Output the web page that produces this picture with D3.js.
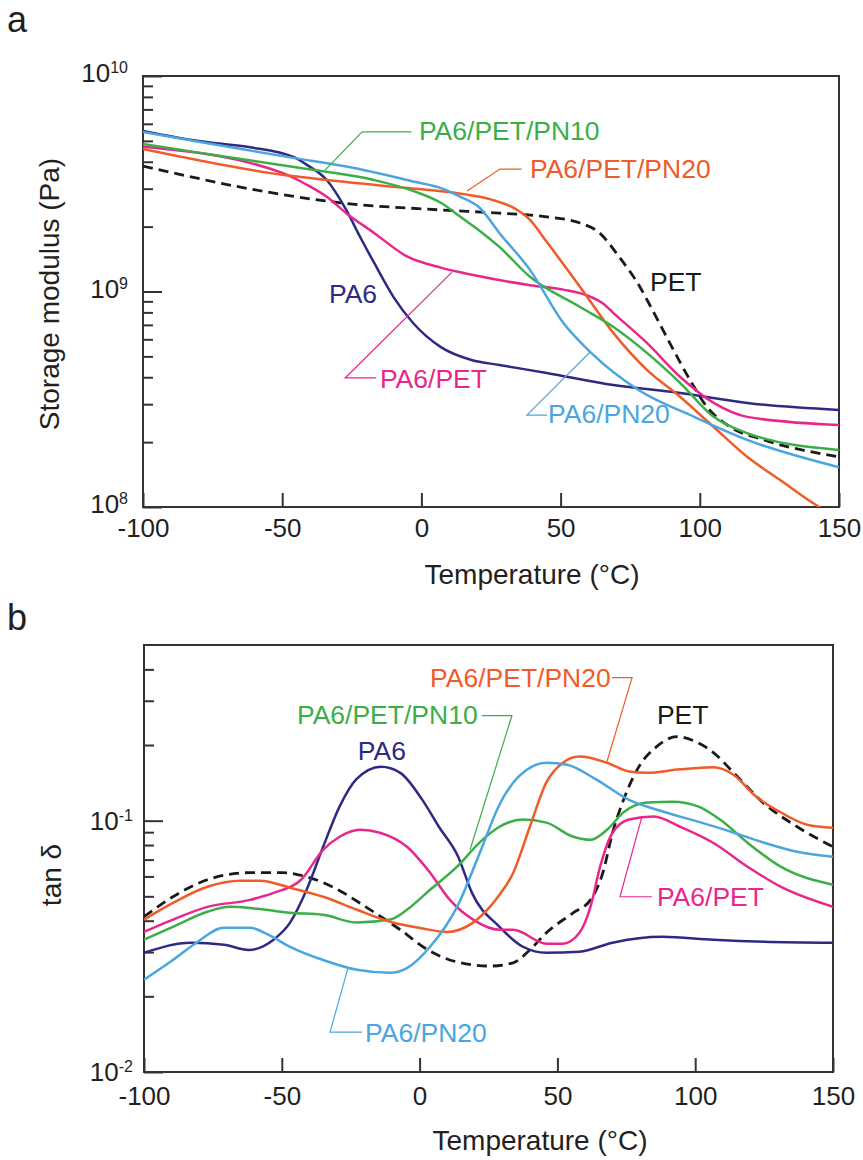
<!DOCTYPE html>
<html>
<head>
<meta charset="utf-8">
<script src="https://cdn.jsdelivr.net/npm/d3@7"></script>
<style>
  body { margin: 0; background: #fff; }
  svg { display: block; font-family: 'Liberation Sans', Arial, sans-serif; }
</style>
</head>
<body>
<div id="chart"></div>
<script>
'use strict';

// ---- panel a: storage modulus (Pa) vs temperature (°C)
var tPA6a   = [-100, -80, -62, -46, -41, -34, -27, -22, -17, -10, -3, 7, 18, 28, 45, 69, 93, 117, 150];
var ePA6    = [5.56e9, 4.99e9, 4.68e9, 4.21e9, 3.86e9, 3.29e9, 2.39e9, 1.79e9, 1.36e9, 9.42e8, 7.14e8, 5.52e8, 4.81e8, 4.56e8, 4.19e8, 3.68e8, 3.38e8, 3.04e8, 2.82e8];
var tPET_a  = [-100, -53, -29, 7, 28, 45, 57, 64, 71, 78.5, 83, 90, 96.5, 102.6, 111, 123, 150];
var ePET    = [3.82e9, 2.86e9, 2.58e9, 2.39e9, 2.31e9, 2.22e9, 2.08e9, 1.87e9, 1.45e9, 1.05e9, 8.2e8, 5.52e8, 3.88e8, 2.91e8, 2.35e8, 2.05e8, 1.71e8];
var tBlend_a = [-100, -50, -41, -34, -27, -17, -5, 7, 19, 39, 51, 61, 65, 69, 81, 93, 105, 117, 150];
var eBlend  = [4.69e9, 3.55e9, 3.12e9, 2.75e9, 2.31e9, 1.87e9, 1.45e9, 1.29e9, 1.19e9, 1.07e9, 1.02e9, 9.42e8, 8.85e8, 7.94e8, 5.77e8, 4.01e8, 3.04e8, 2.62e8, 2.40e8];
var tPN10_a = [-100, -80, -41, -17, -2, 7, 14, 21, 28, 39, 57, 69, 81, 93, 105, 117, 150];
var ePN10   = [4.83e9, 4.41e9, 3.70e9, 3.29e9, 2.90e9, 2.58e9, 2.22e9, 1.91e9, 1.61e9, 1.17e9, 8.47e8, 6.84e8, 5.19e8, 3.76e8, 2.62e8, 2.20e8, 1.84e8];
var tPN20_a = [-100, -50, -34, -5, 13, 21, 28, 33, 39, 45, 57, 69, 81, 93, 105, 117, 129, 143, 150];
var ePN20   = [4.58e9, 3.48e9, 3.29e9, 3.02e9, 2.86e9, 2.75e9, 2.60e9, 2.45e9, 2.15e9, 1.70e9, 1.05e9, 6.41e8, 4.33e8, 3.24e8, 2.35e8, 1.71e8, 1.33e8, 1.0e8, 9.0e7];
var tPA6PN20_a = [-100, -80, -46, -26, -2, 7, 14, 21, 28, 39, 51, 61, 78, 98, 117, 150];
var ePA6PN20 = [5.50e9, 4.95e9, 4.17e9, 3.78e9, 3.22e9, 3.02e9, 2.75e9, 2.44e9, 1.87e9, 1.26e9, 7.14e8, 5.19e8, 3.49e8, 2.62e8, 2.05e8, 1.53e8];

// ---- panel b: tan delta vs temperature (°C)
var tPA6b   = [-100, -83, -71, -62, -53, -47, -41, -35, -29, -23, -14, -7, 1, 7, 14, 19, 29, 37.5, 46, 58, 70, 88, 106.5, 125, 150];
var dPA6    = [0.0298, 0.0327, 0.0321, 0.0306, 0.0336, 0.0393, 0.0531, 0.0787, 0.114, 0.146, 0.164, 0.155, 0.121, 0.0946, 0.0719, 0.0516, 0.0378, 0.0315, 0.0298, 0.0301, 0.0327, 0.0345, 0.0336, 0.0330, 0.0327];
var tPET_b  = [-100, -89.5, -77, -61.5, -50, -41, -31, -19, -7, 3, 13.6, 25.5, 34, 40, 46, 55.7, 62, 66.5, 70, 74, 79, 86, 93.4, 100.7, 106.5, 114, 124.6, 137, 150];
var dPET    = [0.0415, 0.0498, 0.0582, 0.0621, 0.0621, 0.0598, 0.0541, 0.0450, 0.0368, 0.0306, 0.0274, 0.0264, 0.0272, 0.0306, 0.0358, 0.0430, 0.0484, 0.0621, 0.0895, 0.121, 0.160, 0.197, 0.216, 0.205, 0.187, 0.155, 0.118, 0.0946, 0.0787];
var tBlend_b = [-100, -89.5, -77, -61.5, -53, -43, -35, -29, -21.6, -14.4, -4.6, 3.8, 11, 19.4, 29, 34, 46, 52, 58, 62, 65.5, 70, 76, 85, 94.5, 106.5, 119, 131, 150];
var dBlend  = [0.0361, 0.0404, 0.0454, 0.0484, 0.0516, 0.0582, 0.0766, 0.0863, 0.0920, 0.0895, 0.0787, 0.0621, 0.0484, 0.0404, 0.0368, 0.0368, 0.0324, 0.0324, 0.0358, 0.0454, 0.0656, 0.0895, 0.101, 0.104, 0.0946, 0.0817, 0.0656, 0.0546, 0.0454];
var tPN10_b = [-100, -89.5, -77, -69, -59, -47, -35, -22.7, -10.7, -4.6, 3.8, 13.6, 22, 29, 37.5, 46, 55.7, 62, 68, 74, 82.5, 92, 101, 109, 119, 131, 150];
var dPN10   = [0.0336, 0.0378, 0.0434, 0.0454, 0.0446, 0.0430, 0.0422, 0.0393, 0.0404, 0.0442, 0.0531, 0.0656, 0.0824, 0.0946, 0.101, 0.0982, 0.0863, 0.0839, 0.0920, 0.108, 0.118, 0.119, 0.114, 0.101, 0.0817, 0.0656, 0.0556];
var tPN20_b = [-100, -89.5, -77, -65, -58, -47, -35, -22.7, -10.7, 1.2, 10, 19.4, 25.5, 29, 34, 40, 46, 52, 58, 68, 76, 82.5, 94.5, 106.5, 114, 122, 131, 140.6, 150];
var dPN20   = [0.0404, 0.0471, 0.0546, 0.0577, 0.0577, 0.0541, 0.0498, 0.0442, 0.0396, 0.0372, 0.0361, 0.0393, 0.0454, 0.0507, 0.0621, 0.0946, 0.142, 0.170, 0.180, 0.170, 0.157, 0.155, 0.160, 0.163, 0.152, 0.125, 0.108, 0.0964, 0.0938];
var tPA6PN20_b = [-100, -89.5, -81, -71, -61.5, -55, -47, -35, -22.7, -10.7, -4.6, 3.8, 13.6, 22, 29, 36, 46, 53.5, 64, 76, 88, 101, 113, 125, 137, 150];
var dPA6PN20 = [0.0233, 0.0279, 0.0327, 0.0375, 0.0375, 0.0352, 0.0315, 0.0279, 0.0255, 0.0248, 0.0259, 0.0315, 0.0454, 0.0752, 0.116, 0.150, 0.170, 0.167, 0.146, 0.121, 0.109, 0.0991, 0.0904, 0.0817, 0.0752, 0.0719];

var xTicks = [-100, -50, 0, 50, 100, 150];
var seriesNames = ['PA6', 'PET', 'PA6/PET', 'PA6/PET/PN10', 'PA6/PET/PN20', 'PA6/PN20'];
var seriesColors = ['#2d2a84', '#1a1a1a', '#e9278b', '#3cae47', '#f15a29', '#4ba5de'];

// curve labels: [series index, T, value]  leaders: [series index, [[T, value], ...]]
var labelsA = [[0, -33.2, 9.84e8], [1, 82.1, 1.11e9], [2, -14.9, 3.97e8], [3, -0.9, 5.56e9], [4, 39.0, 3.74e9], [5, 45.5, 2.71e8]];
var leadersA = [
  [2, [[11.0, 1.23e9], [-27.4, 3.97e8], [-16.2, 3.97e8]]],
  [3, [[-34.6, 3.66e9], [-21.3, 5.50e9], [-3.6, 5.50e9]]],
  [4, [[16.4, 2.93e9], [28.2, 3.70e9], [36.0, 3.70e9]]],
  [5, [[60.6, 5.24e8], [37.9, 2.67e8], [45.1, 2.67e8]]]
];
var labelsB = [[0, -22.4, 0.190], [1, 86.1, 0.264], [2, 86.1, 0.0498], [3, -44.5, 0.264], [4, 3.8, 0.371], [5, -19.8, 0.0144]];
var leadersB = [
  [2, [[80.7, 0.104], [72.7, 0.0498], [84.3, 0.0498]]],
  [3, [[18.3, 0.0766], [33.5, 0.262], [22.6, 0.262]]],
  [4, [[68.0, 0.172], [77.1, 0.371], [69.8, 0.371]]],
  [5, [[-26.0, 0.0259], [-32.5, 0.0144], [-20.9, 0.0144]]]
];

var W = 863, H = 1160;
var svg = d3.select('#chart').append('svg')
    .attr('width', W)
    .attr('height', H);

svg.append('rect').attr('width', W).attr('height', H).attr('fill', '#fff');

function drawPanel(o) {
  var g = svg.append('g');
  var x = d3.scaleLinear().domain([-100, 150]).range([o.left, o.right]);
  var y = d3.scaleLog().domain(o.yDomain).range([o.bottom, o.top]);

  g.append('clipPath').attr('id', o.id + '-clip')
    .append('rect')
    .attr('x', o.left).attr('y', o.top)
    .attr('width', o.right - o.left).attr('height', o.bottom - o.top);

  // log minor / major ticks on the left side
  var lo = Math.log10(o.yDomain[0]), hi = Math.log10(o.yDomain[1]);
  var minor = [], major = [];
  for (var d = Math.floor(lo); d < Math.ceil(hi); d++) {
    major.push(Math.pow(10, d));
    for (var k = 2; k < 10; k++) {
      var v = k * Math.pow(10, d);
      if (v > o.yDomain[0] && v < o.yDomain[1]) minor.push(v);
    }
  }
  if (Number.isInteger(hi)) major.push(Math.pow(10, hi));

  g.append('g')
    .attr('transform', 'translate(' + o.left + ',0)')
    .call(d3.axisLeft(y).tickValues(minor).tickSize(-10).tickFormat(''))
    .call(styleAxis);
  g.append('g')
    .attr('transform', 'translate(' + o.left + ',0)')
    .call(d3.axisLeft(y).tickValues(major).tickSize(-19).tickFormat(''))
    .call(styleAxis);

  // x axis (plain hyphen for negatives, as in the original)
  g.append('g')
    .attr('transform', 'translate(0,' + o.bottom + ')')
    .call(d3.axisBottom(x).tickValues(xTicks).tickSize(-14).tickPadding(o.xPad)
      .tickFormat(function(t) { return String(t); }))
    .call(styleAxis)
    .selectAll('text')
    .style('font-size', '26px')
    .attr('fill', '#231f20');

  // power-of-ten labels
  major.forEach(function(v) {
    var t = g.append('text')
      .attr('x', o.left - o.expGap)
      .attr('y', y(v) + o.labelDrop)
      .attr('text-anchor', 'end')
      .attr('fill', '#231f20')
      .style('font-size', '26px');
    t.append('tspan').text('10');
    t.append('tspan')
      .attr('dy', -9)
      .style('font-size', '16px')
      .text(String(Math.round(Math.log10(v))));
  });

  // frame
  g.append('rect')
    .attr('x', o.left).attr('y', o.top)
    .attr('width', o.right - o.left).attr('height', o.bottom - o.top)
    .attr('fill', 'none')
    .attr('stroke', '#333')
    .attr('stroke-width', 2);

  // curves
  var line = d3.line()
    .x(function(p) { return x(p[0]); })
    .y(function(p) { return y(p[1]); })
    .curve(d3.curveMonotoneX);

  var curves = g.append('g').attr('clip-path', 'url(#' + o.id + '-clip)');
  o.order.forEach(function(i) {
    var s = o.series[i];
    curves.append('path')
      .datum(d3.zip(s[0], s[1]))
      .attr('d', line)
      .attr('fill', 'none')
      .attr('stroke', seriesColors[i])
      .attr('stroke-width', i === 1 ? 2.8 : 2.5)
      .attr('stroke-dasharray', i === 1 ? '10,6' : null)
      .attr('stroke-linejoin', 'round');
  });

  // leader lines
  o.leaders.forEach(function(l) {
    g.append('path')
      .datum(l[1])
      .attr('d', d3.line().x(function(p) { return x(p[0]); }).y(function(p) { return y(p[1]); }))
      .attr('fill', 'none')
      .attr('stroke', seriesColors[l[0]])
      .attr('stroke-width', 1.2);
  });

  // curve labels
  o.labels.forEach(function(l) {
    g.append('text')
      .attr('x', x(l[1]))
      .attr('y', y(l[2]))
      .attr('dy', '0.36em')
      .attr('fill', seriesColors[l[0]])
      .style('font-size', '26.5px')
      .text(seriesNames[l[0]]);
  });

  // titles
  g.append('text')
    .attr('x', o.xTitle[0]).attr('y', o.xTitle[1])
    .attr('text-anchor', 'middle')
    .attr('fill', '#231f20')
    .style('font-size', '28px')
    .text('Temperature (°C)');
  g.append('text')
    .attr('transform', 'translate(' + o.yTitle[0] + ',' + o.yTitle[1] + ') rotate(-90)')
    .attr('text-anchor', 'middle')
    .attr('fill', '#231f20')
    .style('font-size', '28px')
    .text(o.yLabel);
  g.append('text')
    .attr('x', 7).attr('y', o.letterY)
    .attr('fill', '#231f20')
    .style('font-size', '36px')
    .text(o.letter);
}

function styleAxis(sel) {
  sel.select('.domain').remove();
  sel.selectAll('.tick line').attr('stroke', '#333').attr('stroke-width', 2);
}

drawPanel({
  id: 'a', letter: 'a', letterY: 32,
  left: 143, right: 839, top: 76, bottom: 507,
  yDomain: [1e8, 1e10], xPad: 12, labelDrop: 6, expGap: 15,
  series: [[tPA6a, ePA6], [tPET_a, ePET], [tBlend_a, eBlend], [tPN10_a, ePN10], [tPN20_a, ePN20], [tPA6PN20_a, ePA6PN20]],
  order: [1, 0, 2, 4, 3, 5],
  labels: labelsA, leaders: leadersA,
  xTitle: [532, 584], yTitle: [59, 294], yLabel: 'Storage modulus (Pa)'
});

drawPanel({
  id: 'b', letter: 'b', letterY: 630,
  left: 144, right: 833, top: 645, bottom: 1072,
  yDomain: [0.01, 0.5], xPad: 15, labelDrop: 9, expGap: 11,
  series: [[tPA6b, dPA6], [tPET_b, dPET], [tBlend_b, dBlend], [tPN10_b, dPN10], [tPN20_b, dPN20], [tPA6PN20_b, dPA6PN20]],
  order: [1, 0, 2, 3, 4, 5],
  labels: labelsB, leaders: leadersB,
  xTitle: [540, 1150], yTitle: [61, 875], yLabel: 'tan δ'
});
</script>
</body>
</html>
